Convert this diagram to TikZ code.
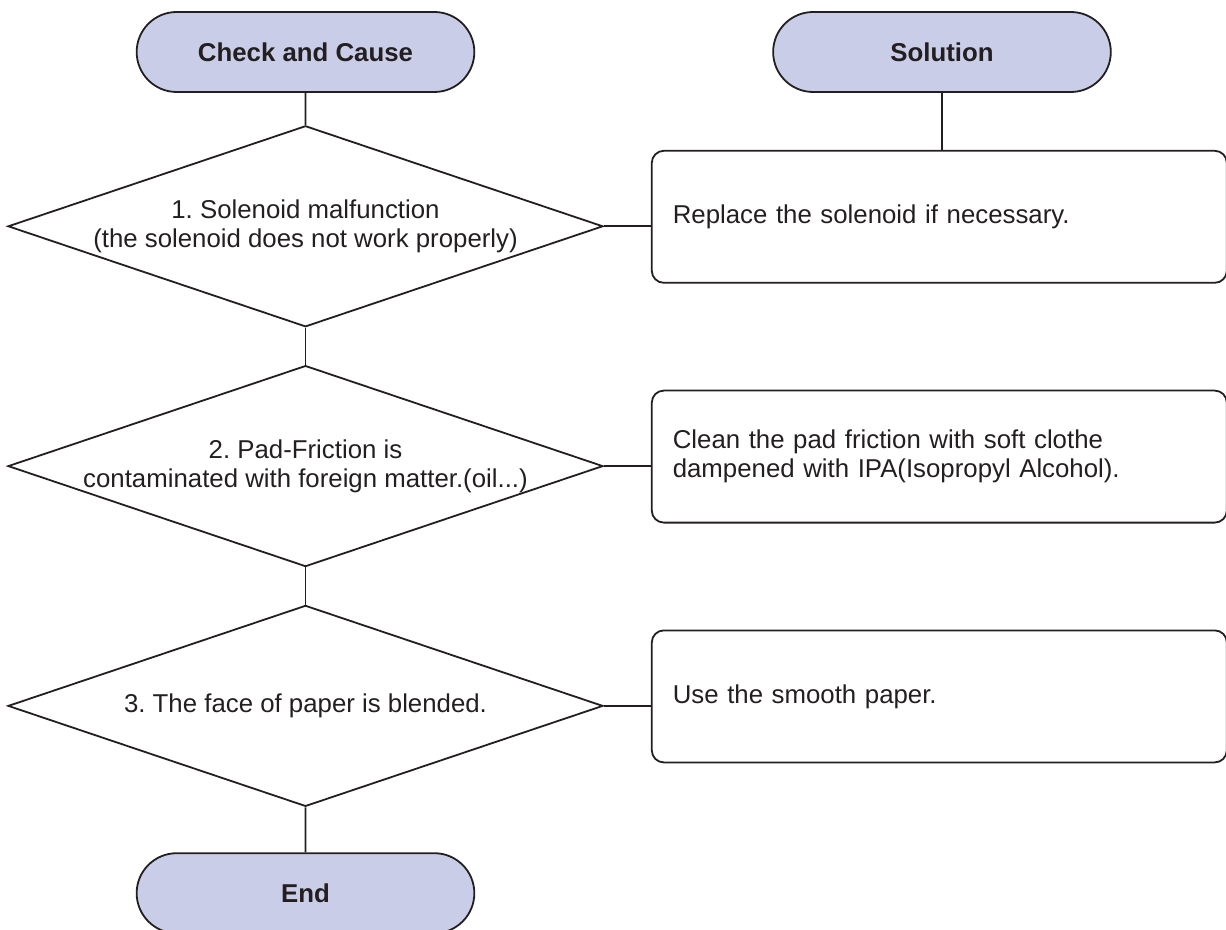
\documentclass[tikz,border=0pt]{standalone}
\usepackage{fontspec}
\setmainfont{Liberation Sans}
\usetikzlibrary{shapes.geometric,shapes.misc,positioning}
\definecolor{termfill}{RGB}{201,205,231}
\definecolor{inkgray}{RGB}{35,31,32}
\frenchspacing

\begin{document}
\begin{tikzpicture}[node distance=17pt, line width=0.9pt,
    every node/.style={font=\fontsize{12.9}{14.5}\selectfont, text=inkgray},
    terminal/.style={draw=inkgray, rounded rectangle, fill=termfill, minimum width=175.5pt, minimum height=40pt, font=\fontsize{12.9}{14.5}\selectfont\bfseries},
    decision/.style={draw=inkgray, diamond, aspect=3, inner xsep=-12pt, inner ysep=0pt, minimum width=297.5pt, minimum height=100.5pt, align=center},
    remedy/.style={draw=inkgray, rounded corners=6pt, minimum height=66pt, text width=266.5pt, inner xsep=10.5pt, align=left}]
    \useasboundingbox (0,0) rectangle (613pt,-465pt);
    \node (cause) [terminal] at (152.75pt,-26pt) {Check and Cause};
    \node (sol) [terminal, right=148.5pt of cause] {Solution};
    \node (d1) [decision, below=16pt of cause] {1. Solenoid malfunction\\(the solenoid does not work properly)};
    \node (d2) [decision, below=18.5pt of d1] {2. Pad-Friction is\\contaminated with foreign matter.(oil...)};
    \node (d3) [decision, below=18.5pt of d2] {3. The face of paper is blended.};
    \node (finish) [terminal, below=22.5pt of d3] {End};
    \node (b1) [remedy, right=23.5pt of d1, yshift=4.75pt] {Replace the solenoid if necessary.};
    \node (b2) [remedy, right=23.5pt of d2, yshift=4.75pt] {Clean the pad friction with soft clothe\\dampened with IPA(Isopropyl Alcohol).};
    \node (b3) [remedy, right=23.5pt of d3, yshift=4.75pt] {Use the smooth paper.};
    \draw[inkgray] (cause) -- (d1);
    \draw[inkgray] (d1) -- (d2);
    \draw[inkgray] (d2) -- (d3);
    \draw[inkgray] (d3) -- (finish);
    \draw[inkgray] (sol.south) -- (sol.south |- b1.north);
    \draw[inkgray] (d1.east) -- (d1.east -| b1.west);
    \draw[inkgray] (d2.east) -- (d2.east -| b2.west);
    \draw[inkgray] (d3.east) -- (d3.east -| b3.west);
  \end{tikzpicture}
\end{document}
